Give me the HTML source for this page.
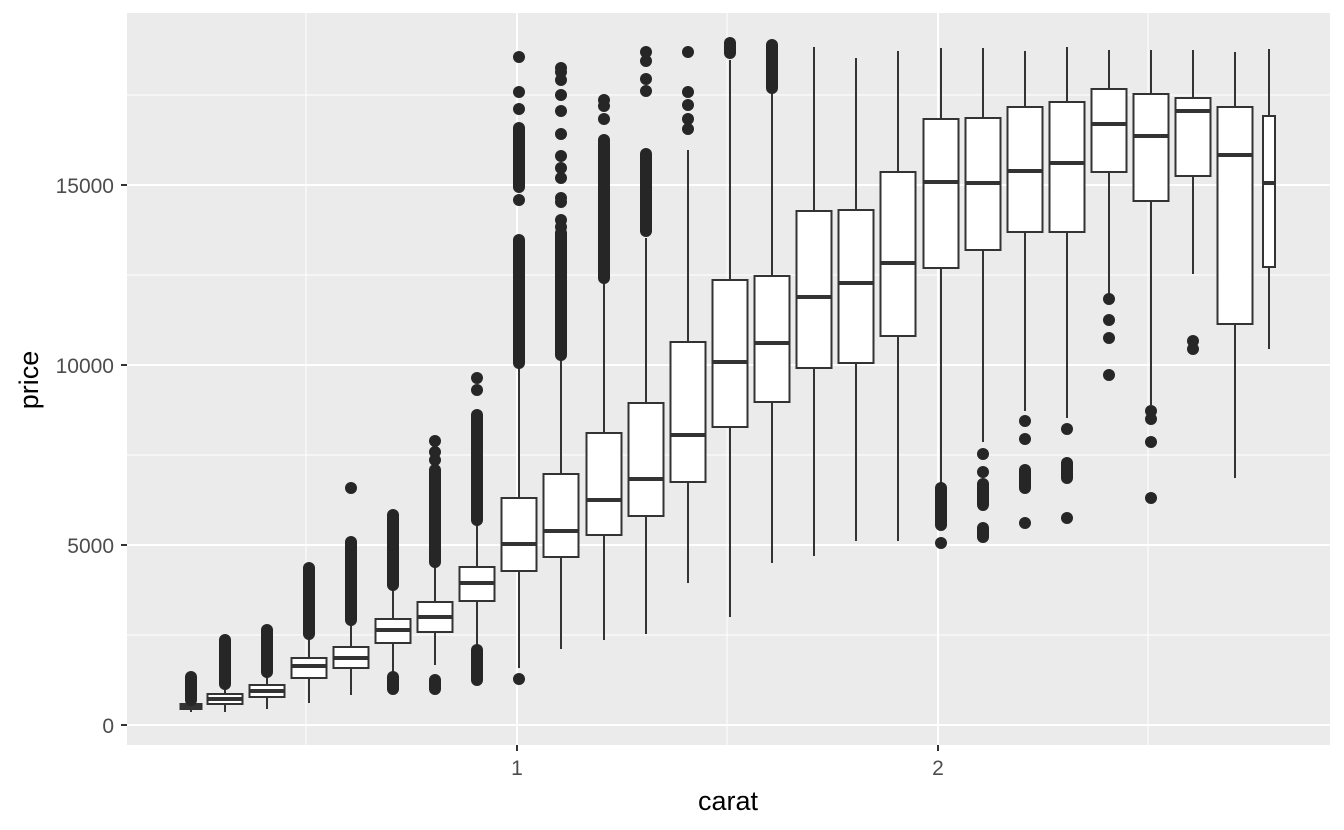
<!DOCTYPE html><html><head><style>body{margin:0;background:#fff}svg{display:block}</style></head><body>
<svg id="s" width="1344" height="830" xmlns="http://www.w3.org/2000/svg" font-family="Liberation Sans, sans-serif">
<rect x="127" y="13" width="1203" height="732" fill="#ebebeb"/>
<g stroke="#fff" stroke-width="1"><line x1="127" x2="1330" y1="635" y2="635"/><line x1="127" x2="1330" y1="455" y2="455"/><line x1="127" x2="1330" y1="275" y2="275"/><line x1="127" x2="1330" y1="95" y2="95"/><line y1="13" y2="745" x1="306" x2="306"/><line y1="13" y2="745" x1="727" x2="727"/><line y1="13" y2="745" x1="1148" x2="1148"/></g>
<g stroke="#fff" stroke-width="2"><line x1="127" x2="1330" y1="725" y2="725"/><line x1="127" x2="1330" y1="545" y2="545"/><line x1="127" x2="1330" y1="365" y2="365"/><line x1="127" x2="1330" y1="185" y2="185"/><line y1="13" y2="745" x1="517" x2="517"/><line y1="13" y2="745" x1="938" x2="938"/></g>
<g id="b"></g>
<g stroke="#333" stroke-width="2"><line x1="121" x2="127" y1="725" y2="725"/><line x1="121" x2="127" y1="545" y2="545"/><line x1="121" x2="127" y1="365" y2="365"/><line x1="121" x2="127" y1="185" y2="185"/><line y1="745" y2="751" x1="517" x2="517"/><line y1="745" y2="751" x1="938" x2="938"/></g>
<g fill="#4d4d4d" font-size="21" text-anchor="end"><text x="114" y="733">0</text><text x="114" y="553">5000</text><text x="114" y="373">10000</text><text x="114" y="193">15000</text></g>
<g fill="#4d4d4d" font-size="21" text-anchor="middle"><text x="517" y="775">1</text><text x="938" y="775">2</text></g>
<text x="728" y="810" font-size="27" text-anchor="middle">carat</text>
<text transform="translate(38,380) rotate(-90)" font-size="27" text-anchor="middle">price</text>
</svg>
<script>
var B=[
[191,21,712,709,707,704,704,[[677,700]],[]],
[225,35,712,704,699,694,686,[[640,684]],[]],
[267,35,709,697,691,685,675,[[630,672]],[]],
[309,35,703,678,666,658,636,[[568,634]],[]],
[351,35,695,668,658,647,622,[[542,620]],[488]],
[393,35,690,643,630,619,587,[[515,585],[677,689]],[]],
[435,35,665,632,617,602,565,[[470,562],[680,689]],[441,452,460]],
[477,35,647,601,583,567,522,[[415,520],[650,680]],[378,390]],
[519,35,668,571,544,498,365,[[240,363],[128,187]],[57,92,109,200,679]],
[561,35,649,557,531,474,355,[[233,355]],[68,72,80,95,111,134,156,168,178,198,202,220,227]],
[604,35,640,535,500,433,283,[[140,278]],[100,106,119]],
[646,35,634,516,479,403,238,[[154,231]],[52,61,79,91]],
[688,35,583,482,435,342,150,[],[52,92,105,119,129]],
[730,35,617,427,362,280,60,[[43,53]],[]],
[772,35,563,402,343,276,90,[[45,88]],[]],
[814,35,556,368,297,211,47,[],[]],
[856,35,541,363,283,210,58,[],[]],
[898,35,541,336,263,172,51,[],[]],
[941,35,485,268,182,119,48,[[488,525]],[543]],
[983,35,442,250,183,118,48,[[484,505],[528,537]],[454,472]],
[1025,35,411,232,171,107,51,[[470,488]],[421,439,523]],
[1067,35,418,232,163,102,47,[[463,478]],[429,518]],
[1109,35,297,172,124,89,50,[],[299,320,338,375]],
[1151,35,405,201,136,94,50,[],[411,419,442,498]],
[1193,35,274,176,111,98,50,[],[341,349]],
[1235,35,478,324,155,107,52,[],[]],
[1269,12,349,267,183,116,49,[],[]]];
var h='';
B.forEach(function(b){var x=b[0],w=b[1];
h+='<line x1="'+x+'" x2="'+x+'" y1="'+b[6]+'" y2="'+b[2]+'" stroke="#333" stroke-width="2"/>';
h+='<rect x="'+(x-w/2)+'" y="'+b[5]+'" width="'+w+'" height="'+Math.max(b[3]-b[5],1)+'" fill="#fff" stroke="#333" stroke-width="2"/>';
h+='<line x1="'+(x-w/2)+'" x2="'+(x+w/2)+'" y1="'+b[4]+'" y2="'+b[4]+'" stroke="#333" stroke-width="4"/>';
b[7].forEach(function(r){h+='<line x1="'+x+'" x2="'+x+'" y1="'+r[0]+'" y2="'+r[1]+'" stroke="#262626" stroke-width="12" stroke-linecap="round"/>';});
b[8].forEach(function(y){h+='<circle cx="'+x+'" cy="'+y+'" r="6" fill="#262626"/>';});
});
document.getElementById('b').innerHTML=h;
</script>
</body></html>
